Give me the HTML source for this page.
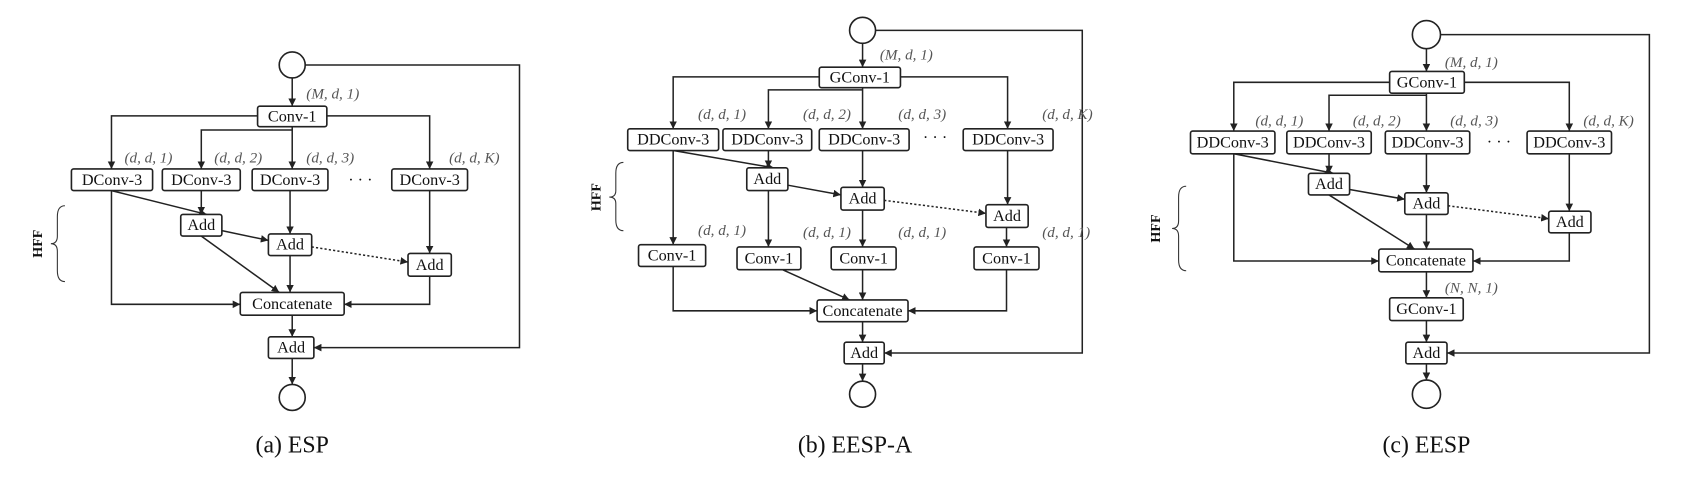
<!DOCTYPE html>
<html><head><meta charset="utf-8"><style>
html,body{margin:0;padding:0;background:#fff}
svg{display:block}
text{font-family:"Liberation Serif",serif}
.b{fill:#fff;stroke:#222;stroke-width:1.5}
.t{font-size:15px;fill:#111;text-anchor:middle;dominant-baseline:central}
.l{font-size:14px;fill:#555;font-style:italic}
.c{font-size:22px;fill:#111;text-anchor:middle}
.e{fill:none;stroke:#222;stroke-width:1.4}
.d{fill:none;stroke:#222;stroke-width:1.4;stroke-dasharray:2 2}
.h{font-size:13px;font-weight:bold;fill:#111;text-anchor:middle}
.br{fill:none;stroke:#333;stroke-width:1}
</style></head><body>
<svg width="1697" height="483" viewBox="0 0 1568 446" preserveAspectRatio="none" xmlns="http://www.w3.org/2000/svg">
<defs><marker id="a" viewBox="0 0 10 10" refX="10" refY="5" markerWidth="7" markerHeight="7" orient="auto" markerUnits="userSpaceOnUse"><path d="M0,0 L10,5 L0,10 z" fill="#222"/></marker></defs>

<!-- Panel a -->
<g>
<circle cx="270" cy="60" r="12" class="b"/>
<path class="e" d="M282,60 H480 V321 H290" marker-end="url(#a)"/>
<path class="e" d="M270,72 V98" marker-end="url(#a)"/>
<text class="l" x="283" y="91">(M, d, 1)</text>
<path class="e" d="M238,107 H103 V156" marker-end="url(#a)"/>
<path class="e" d="M302,107 H397 V156" marker-end="url(#a)"/>
<path class="e" d="M270,120 H186 V156" marker-end="url(#a)"/>
<path class="e" d="M270,116 V156" marker-end="url(#a)"/>
<rect class="b" x="238" y="98" width="64" height="19" rx="2"/><text class="t" x="270" y="107.5">Conv-1</text>
<text class="l" x="115" y="150">(d, d, 1)</text><text class="l" x="198" y="150">(d, d, 2)</text><text class="l" x="283" y="150">(d, d, 3)</text><text class="l" x="415" y="150">(d, d, K)</text>
<path class="e" d="M103,176 L191,198" marker-end="url(#a)"/>
<path class="e" d="M186,176 V198" marker-end="url(#a)"/>
<path class="e" d="M268,176 V216" marker-end="url(#a)"/>
<path class="e" d="M397,176 V234" marker-end="url(#a)"/>
<path class="e" d="M205,213 L248,222" marker-end="url(#a)"/>
<path class="d" d="M288,228 L377,242" marker-end="url(#a)"/>
<path class="e" d="M186,218 L258,270" marker-end="url(#a)"/>
<path class="e" d="M268,236 V270" marker-end="url(#a)"/>
<path class="e" d="M103,176 V281 H222" marker-end="url(#a)"/>
<path class="e" d="M397,255 V281 H318" marker-end="url(#a)"/>
<path class="e" d="M270,291 V311" marker-end="url(#a)"/>
<path class="e" d="M270,331 V355" marker-end="url(#a)"/>
<rect class="b" x="66" y="156" width="75" height="20" rx="2"/><text class="t" x="103.5" y="166">DConv-3</text>
<rect class="b" x="150" y="156" width="72" height="20" rx="2"/><text class="t" x="186" y="166">DConv-3</text>
<rect class="b" x="233" y="156" width="70" height="20" rx="2"/><text class="t" x="268" y="166">DConv-3</text>
<rect class="b" x="362" y="156" width="70" height="20" rx="2"/><text class="t" x="397" y="166">DConv-3</text>
<text class="t" x="333" y="166">· · ·</text>
<rect class="b" x="167" y="198" width="38" height="20" rx="2"/><text class="t" x="186" y="208">Add</text>
<rect class="b" x="248" y="216" width="40" height="20" rx="2"/><text class="t" x="268" y="226">Add</text>
<rect class="b" x="377" y="234" width="40" height="21" rx="2"/><text class="t" x="397" y="244.5">Add</text>
<rect class="b" x="222" y="270" width="96" height="21" rx="2"/><text class="t" x="270" y="280.5">Concatenate</text>
<rect class="b" x="248" y="311" width="42" height="20" rx="2"/><text class="t" x="269" y="321">Add</text>
<circle cx="270" cy="367" r="12" class="b"/>
<path class="br" d="M60,190 Q53,190 53,200 L53,218 Q53,225 47,225 Q53,225 53,232 L53,250 Q53,260 60,260"/>
<text class="h" transform="translate(35,225) rotate(-90)" dominant-baseline="central">HFF</text>
<text class="c" x="270" y="418">(a) ESP</text>
</g>

<!-- Panel b -->
<g>
<circle cx="797" cy="28" r="12" class="b"/>
<path class="e" d="M809,28 H1000 V326 H817" marker-end="url(#a)"/>
<path class="e" d="M797,40 V62" marker-end="url(#a)"/>
<text class="l" x="813" y="55">(M, d, 1)</text>
<path class="e" d="M757,71 H622 V119" marker-end="url(#a)"/>
<path class="e" d="M832,71 H931 V119" marker-end="url(#a)"/>
<path class="e" d="M797,83 H710 V119" marker-end="url(#a)"/>
<path class="e" d="M797,80 V119" marker-end="url(#a)"/>
<rect class="b" x="757" y="62" width="75" height="19" rx="2"/><text class="t" x="794.5" y="71.5">GConv-1</text>
<text class="l" x="645" y="110">(d, d, 1)</text><text class="l" x="742" y="110">(d, d, 2)</text><text class="l" x="830" y="110">(d, d, 3)</text><text class="l" x="963" y="110">(d, d, K)</text>
<path class="e" d="M622,139 L715,155" marker-end="url(#a)"/>
<path class="e" d="M710,139 V155" marker-end="url(#a)"/>
<path class="e" d="M797,139 V173" marker-end="url(#a)"/>
<path class="e" d="M931,139 V189" marker-end="url(#a)"/>
<path class="e" d="M728,171 L777,180" marker-end="url(#a)"/>
<path class="d" d="M817,185 L911,197" marker-end="url(#a)"/>
<path class="e" d="M622,139 V226" marker-end="url(#a)"/>
<path class="e" d="M710,176 V228" marker-end="url(#a)"/>
<path class="e" d="M797,194 V228" marker-end="url(#a)"/>
<path class="e" d="M930,210 V228" marker-end="url(#a)"/>
<text class="l" x="645" y="217">(d, d, 1)</text><text class="l" x="742" y="219">(d, d, 1)</text><text class="l" x="830" y="219">(d, d, 1)</text><text class="l" x="963" y="219">(d, d, 1)</text>
<path class="e" d="M622,246 V287 H755" marker-end="url(#a)"/>
<path class="e" d="M723,249 L785,277" marker-end="url(#a)"/>
<path class="e" d="M797,249 V277" marker-end="url(#a)"/>
<path class="e" d="M930,249 V287 H839" marker-end="url(#a)"/>
<path class="e" d="M797,296 V316" marker-end="url(#a)"/>
<path class="e" d="M797,336 V352" marker-end="url(#a)"/>
<rect class="b" x="580" y="119" width="84" height="20" rx="2"/><text class="t" x="622" y="129">DDConv-3</text>
<rect class="b" x="668" y="119" width="82" height="20" rx="2"/><text class="t" x="709" y="129">DDConv-3</text>
<rect class="b" x="757" y="119" width="83" height="20" rx="2"/><text class="t" x="798.5" y="129">DDConv-3</text>
<rect class="b" x="890" y="119" width="83" height="20" rx="2"/><text class="t" x="931.5" y="129">DDConv-3</text>
<text class="t" x="864" y="127">· · ·</text>
<rect class="b" x="690" y="155" width="38" height="21" rx="2"/><text class="t" x="709" y="165.5">Add</text>
<rect class="b" x="777" y="173" width="40" height="21" rx="2"/><text class="t" x="797" y="183.5">Add</text>
<rect class="b" x="911" y="189" width="39" height="21" rx="2"/><text class="t" x="930.5" y="199.5">Add</text>
<rect class="b" x="590" y="226" width="62" height="20" rx="2"/><text class="t" x="621" y="236">Conv-1</text>
<rect class="b" x="681" y="228" width="59" height="21" rx="2"/><text class="t" x="710.5" y="238.5">Conv-1</text>
<rect class="b" x="768" y="228" width="60" height="21" rx="2"/><text class="t" x="798" y="238.5">Conv-1</text>
<rect class="b" x="900" y="228" width="60" height="21" rx="2"/><text class="t" x="930" y="238.5">Conv-1</text>
<rect class="b" x="755" y="277" width="84" height="20" rx="2"/><text class="t" x="797" y="287">Concatenate</text>
<rect class="b" x="780" y="316" width="37" height="20" rx="2"/><text class="t" x="798.5" y="326">Add</text>
<circle cx="797" cy="364" r="12" class="b"/>
<path class="br" d="M576,150 Q569,150 569,160 L569,176 Q569,182 563,182 Q569,182 569,188 L569,203 Q569,213 576,213"/>
<text class="h" transform="translate(551,182) rotate(-90)" dominant-baseline="central">HFF</text>
<text class="c" x="790" y="418">(b) EESP-A</text>
</g>

<!-- Panel c -->
<g>
<circle cx="1318" cy="32" r="13" class="b"/>
<path class="e" d="M1331,32 H1524 V326 H1337" marker-end="url(#a)"/>
<path class="e" d="M1318,45 V66" marker-end="url(#a)"/>
<text class="l" x="1335" y="62">(M, d, 1)</text>
<path class="e" d="M1284,76 H1140 V121" marker-end="url(#a)"/>
<path class="e" d="M1353,76 H1450 V121" marker-end="url(#a)"/>
<path class="e" d="M1318,88 H1228 V121" marker-end="url(#a)"/>
<path class="e" d="M1318,86 V121" marker-end="url(#a)"/>
<rect class="b" x="1284" y="66" width="69" height="20" rx="2"/><text class="t" x="1318.5" y="76">GConv-1</text>
<text class="l" x="1160" y="116">(d, d, 1)</text><text class="l" x="1250" y="116">(d, d, 2)</text><text class="l" x="1340" y="116">(d, d, 3)</text><text class="l" x="1463" y="116">(d, d, K)</text>
<path class="e" d="M1140,142 L1232,160" marker-end="url(#a)"/>
<path class="e" d="M1228,142 V160" marker-end="url(#a)"/>
<path class="e" d="M1318,142 V178" marker-end="url(#a)"/>
<path class="e" d="M1450,142 V195" marker-end="url(#a)"/>
<path class="e" d="M1247,175 L1298,184" marker-end="url(#a)"/>
<path class="d" d="M1338,190 L1431,202" marker-end="url(#a)"/>
<path class="e" d="M1228,180 L1307,230" marker-end="url(#a)"/>
<path class="e" d="M1318,198 V230" marker-end="url(#a)"/>
<path class="e" d="M1140,142 V241 H1274" marker-end="url(#a)"/>
<path class="e" d="M1450,215 V241 H1361" marker-end="url(#a)"/>
<path class="e" d="M1318,251 V275" marker-end="url(#a)"/>
<text class="l" x="1335" y="270">(N, N, 1)</text>
<path class="e" d="M1318,296 V316" marker-end="url(#a)"/>
<path class="e" d="M1318,336 V351" marker-end="url(#a)"/>
<rect class="b" x="1100" y="121" width="78" height="21" rx="2"/><text class="t" x="1139" y="131.5">DDConv-3</text>
<rect class="b" x="1189" y="121" width="78" height="21" rx="2"/><text class="t" x="1228" y="131.5">DDConv-3</text>
<rect class="b" x="1280" y="121" width="78" height="21" rx="2"/><text class="t" x="1319" y="131.5">DDConv-3</text>
<rect class="b" x="1411" y="121" width="78" height="21" rx="2"/><text class="t" x="1450" y="131.5">DDConv-3</text>
<text class="t" x="1385" y="131">· · ·</text>
<rect class="b" x="1209" y="160" width="38" height="20" rx="2"/><text class="t" x="1228" y="170">Add</text>
<rect class="b" x="1298" y="178" width="40" height="20" rx="2"/><text class="t" x="1318" y="188">Add</text>
<rect class="b" x="1431" y="195" width="39" height="20" rx="2"/><text class="t" x="1450.5" y="205">Add</text>
<rect class="b" x="1274" y="230" width="87" height="21" rx="2"/><text class="t" x="1317.5" y="240.5">Concatenate</text>
<rect class="b" x="1284" y="275" width="68" height="21" rx="2"/><text class="t" x="1318" y="285.5">GConv-1</text>
<rect class="b" x="1299" y="316" width="38" height="20" rx="2"/><text class="t" x="1318" y="326">Add</text>
<circle cx="1318" cy="364" r="13" class="b"/>
<path class="br" d="M1096,172 Q1089,172 1089,182 L1089,204 Q1089,211 1083,211 Q1089,211 1089,218 L1089,240 Q1089,250 1096,250"/>
<text class="h" transform="translate(1068,211) rotate(-90)" dominant-baseline="central">HFF</text>
<text class="c" x="1318" y="418">(c) EESP</text>
</g>
</svg>
</body></html>
